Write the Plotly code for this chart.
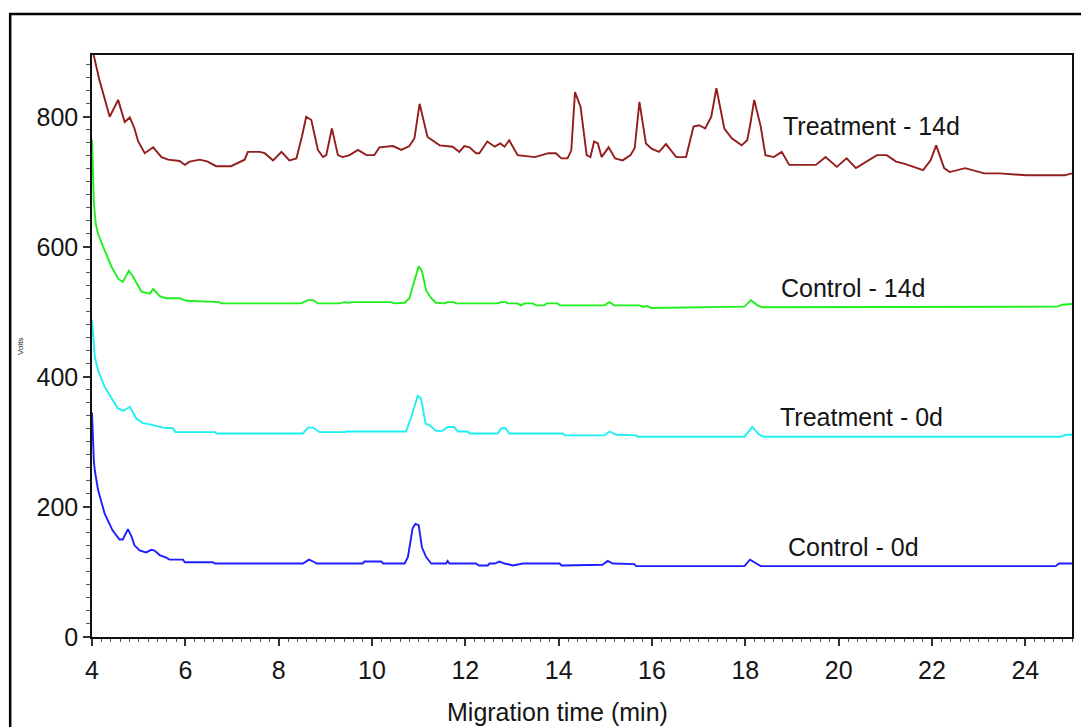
import plotly.graph_objects as go

# Electropherogram traces: migration time (min) vs detector signal (Volts)
t14_x = [4.00, 4.02, 4.16, 4.27, 4.38, 4.56, 4.70, 4.81, 4.91, 4.99, 5.13, 5.31, 5.49, 5.63, 5.88,
         5.99, 6.09, 6.31, 6.48, 6.66, 6.98, 7.27, 7.34, 7.59, 7.70, 7.88, 8.06, 8.23, 8.38,
         8.50, 8.59, 8.70, 8.84, 8.95, 9.02, 9.14, 9.27, 9.37, 9.52, 9.70, 9.88, 10.05, 10.16,
         10.45, 10.63, 10.80, 10.91, 11.02, 11.19, 11.45, 11.73, 11.87, 11.98, 12.09, 12.23,
         12.30, 12.47, 12.63, 12.75, 12.84, 12.94, 13.12, 13.49, 13.78, 13.94, 14.06, 14.19,
         14.27, 14.35, 14.47, 14.60, 14.68, 14.76, 14.84, 14.92, 15.07, 15.21, 15.37, 15.54,
         15.63, 15.73, 15.87, 15.99, 16.15, 16.30, 16.52, 16.73, 16.89, 17.01, 17.14, 17.27,
         17.38, 17.55, 17.71, 17.92, 18.04, 18.11, 18.19, 18.33, 18.43, 18.61, 18.78, 18.94,
         19.51, 19.72, 19.96, 20.17, 20.37, 20.82, 21.03, 21.23, 21.40, 21.81, 21.97, 22.09,
         22.26, 22.38, 22.71, 22.87, 23.12, 23.45, 24.02, 24.84, 25.00]
t14_y = [900, 900, 856, 826, 800, 826, 792, 799, 782, 762, 744, 753, 738, 734, 732,
         726, 731, 734, 731, 724, 724, 734, 746, 746, 744, 733, 746, 733, 736,
         770, 800, 795, 749, 738, 741, 782, 741, 738, 741, 749, 741, 741, 753,
         755, 749, 755, 767, 820, 769, 756, 754, 746, 755, 753, 744,
         744, 762, 754, 759, 754, 764, 741, 738, 744, 744, 736, 736,
         748, 838, 815, 741, 738, 762, 759, 738, 753, 736, 733, 741,
         752, 823, 759, 751, 746, 758, 738, 738, 785, 787, 782, 800,
         844, 782, 767, 756, 764, 790, 826, 785, 741, 738, 746, 726,
         726, 738, 723, 736, 721, 741, 741, 731, 728, 718, 733, 756,
         721, 715, 721, 718, 713, 713, 710, 710, 713]

c14_x = [4.00, 4.02, 4.04, 4.08, 4.13, 4.24, 4.42, 4.56, 4.66, 4.79, 4.88, 5.06, 5.24, 5.31,
         5.45, 5.59, 5.88, 6.02, 6.73, 6.76, 8.48, 8.63, 8.74, 8.84, 9.30, 9.41, 9.50, 9.59,
         10.41, 10.47, 10.70, 10.80, 10.91, 11.00, 11.07, 11.16, 11.27, 11.37, 11.55, 11.62,
         11.76, 11.80, 12.69, 12.76, 12.86, 12.91, 13.12, 13.19, 13.27, 13.44, 13.52, 13.69,
         13.74, 13.98, 14.03, 14.98, 15.09, 15.19, 15.73, 15.80, 15.90, 15.98, 17.98, 18.12,
         18.26, 18.37, 24.68, 24.79, 25.00]
c14_y = [765, 717, 667, 635, 620, 600, 569, 551, 546, 563, 554, 531, 528, 535,
         524, 521, 521, 517, 515, 513, 513, 518, 518, 513, 513, 515, 514, 515,
         515, 513, 514, 521, 549, 570, 563, 533, 521, 514, 513, 515,
         515, 513, 513, 515, 515, 513, 513, 510, 513, 513, 510, 510,
         513, 513, 510, 510, 515, 510, 510, 508, 509, 506, 508, 518,
         510, 507, 508, 511, 512]

t0_x = [4.00, 4.02, 4.06, 4.13, 4.27, 4.42, 4.56, 4.68, 4.81, 4.95, 5.09, 5.24, 5.38, 5.52,
        5.73, 5.79, 6.63, 6.67, 8.52, 8.63, 8.74, 8.88, 9.41, 9.45, 10.73, 10.84, 10.98,
        11.05, 11.15, 11.23, 11.37, 11.51, 11.62, 11.76, 11.84, 12.05, 12.09, 12.69, 12.77,
        12.86, 12.94, 14.09, 14.13, 14.98, 15.09, 15.23, 15.66, 15.69, 17.98, 18.15, 18.30,
        18.40, 24.76, 24.87, 25.00]
t0_y = [487, 462, 431, 410, 385, 367, 351, 348, 354, 336, 329, 327, 324, 322,
        321, 315, 315, 313, 313, 322, 322, 315, 315, 316, 316, 338, 371,
        367, 328, 326, 317, 317, 323, 323, 316, 316, 313, 313, 321,
        321, 313, 313, 310, 310, 316, 311, 310, 308, 308, 323, 311,
        308, 308, 311, 311]

c0_x = [4.00, 4.02, 4.04, 4.06, 4.13, 4.27, 4.44, 4.59, 4.66, 4.77, 4.85, 4.91, 5.02, 5.16,
        5.27, 5.34, 5.45, 5.59, 5.66, 5.95, 5.99, 6.59, 6.63, 8.52, 8.65, 8.77, 8.81, 9.80,
        9.84, 10.20, 10.24, 10.70, 10.77, 10.87, 10.93, 11.00, 11.07, 11.16, 11.27, 11.59,
        11.62, 11.66, 12.23, 12.29, 12.48, 12.52, 12.63, 12.73, 12.84, 13.02, 13.23, 14.02,
        14.06, 14.94, 15.05, 15.16, 15.62, 15.66, 17.98, 18.10, 18.23, 18.33, 24.65, 24.72,
        25.00]
c0_y = [345, 300, 270, 256, 226, 190, 164, 150, 150, 166, 154, 141, 133, 130,
        134, 133, 126, 122, 119, 119, 115, 115, 113, 113, 119, 115, 113, 113,
        116, 116, 113, 113, 123, 167, 174, 172, 138, 123, 113, 113,
        117, 113, 113, 110, 110, 113, 113, 116, 113, 110, 113, 113,
        110, 111, 117, 113, 112, 109, 109, 119, 113, 109, 109, 113,
        113]

series_names = ["Treatment - 14d", "Control - 14d", "Treatment - 0d", "Control - 0d"]
series_colors = ["#931c1c", "#1ef01e", "#1ef0f0", "#1e1eff"]
label_x = [18.77, 18.73, 18.70, 18.87]
label_y = [786, 536, 338, 138]

x_range = [4, 25]
y_range = [0, 895]

FONT = "Liberation Sans, Arial"
TEXT_COLOR = "#151515"

fig = go.Figure()
for xs, ys, name, color in zip([t14_x, c14_x, t0_x, c0_x], [t14_y, c14_y, t0_y, c0_y],
                               series_names, series_colors):
    fig.add_trace(go.Scatter(x=xs, y=ys, mode="lines", name=name,
                             line=dict(color=color, width=1.9), cliponaxis=True))

for name, lx, ly in zip(series_names, label_x, label_y):
    fig.add_annotation(x=lx, y=ly, xref="x", yref="y", text=name, showarrow=False,
                       xanchor="left", yanchor="middle",
                       font=dict(family=FONT, size=25, color=TEXT_COLOR))

# axis titles
fig.add_annotation(x=0.4745, y=-0.129, xref="paper", yref="paper", text="Migration time (min)",
                   showarrow=False, xanchor="center", yanchor="middle",
                   font=dict(family=FONT, size=25, color=TEXT_COLOR))
fig.add_annotation(x=-0.0735, y=0.5, xref="paper", yref="paper", text="Volts", textangle=-90,
                   showarrow=False, xanchor="center", yanchor="middle",
                   font=dict(family=FONT, size=8, color=TEXT_COLOR))

# outer frame around the figure
fig.add_shape(type="rect", xref="paper", yref="paper", x0=-0.0835, x1=1.03, y0=-0.2, y1=1.0705,
              line=dict(color="black", width=2.5), fillcolor="rgba(0,0,0,0)", layer="above")

fig.update_xaxes(range=x_range, dtick=2, tick0=4, showgrid=False, zeroline=False,
                 showline=True, linecolor="#111", linewidth=1.5, mirror=True,
                 ticks="outside", ticklen=7, tickwidth=1.5, tickcolor="#333",
                 ticklabelstandoff=3,
                 minor=dict(dtick=0.2, tick0=4, ticks="outside", ticklen=3, tickwidth=1, tickcolor="#555"),
                 tickfont=dict(family=FONT, size=25, color=TEXT_COLOR))
fig.update_yaxes(range=y_range, dtick=200, tick0=0, showgrid=False, zeroline=False,
                 showline=True, linecolor="#111", linewidth=1.5, mirror=True,
                 ticks="outside", ticklen=7, tickwidth=1.5, tickcolor="#333",
                 ticklabelstandoff=0,
                 minor=dict(dtick=20, tick0=0, ticks="outside", ticklen=4, tickwidth=1, tickcolor="#555"),
                 tickfont=dict(family=FONT, size=25, color=TEXT_COLOR))

fig.update_layout(width=1081, height=727, showlegend=False,
                  margin=dict(l=92, r=7, t=55, b=90),
                  plot_bgcolor="white", paper_bgcolor="white")

fig.write_html("out.html")
